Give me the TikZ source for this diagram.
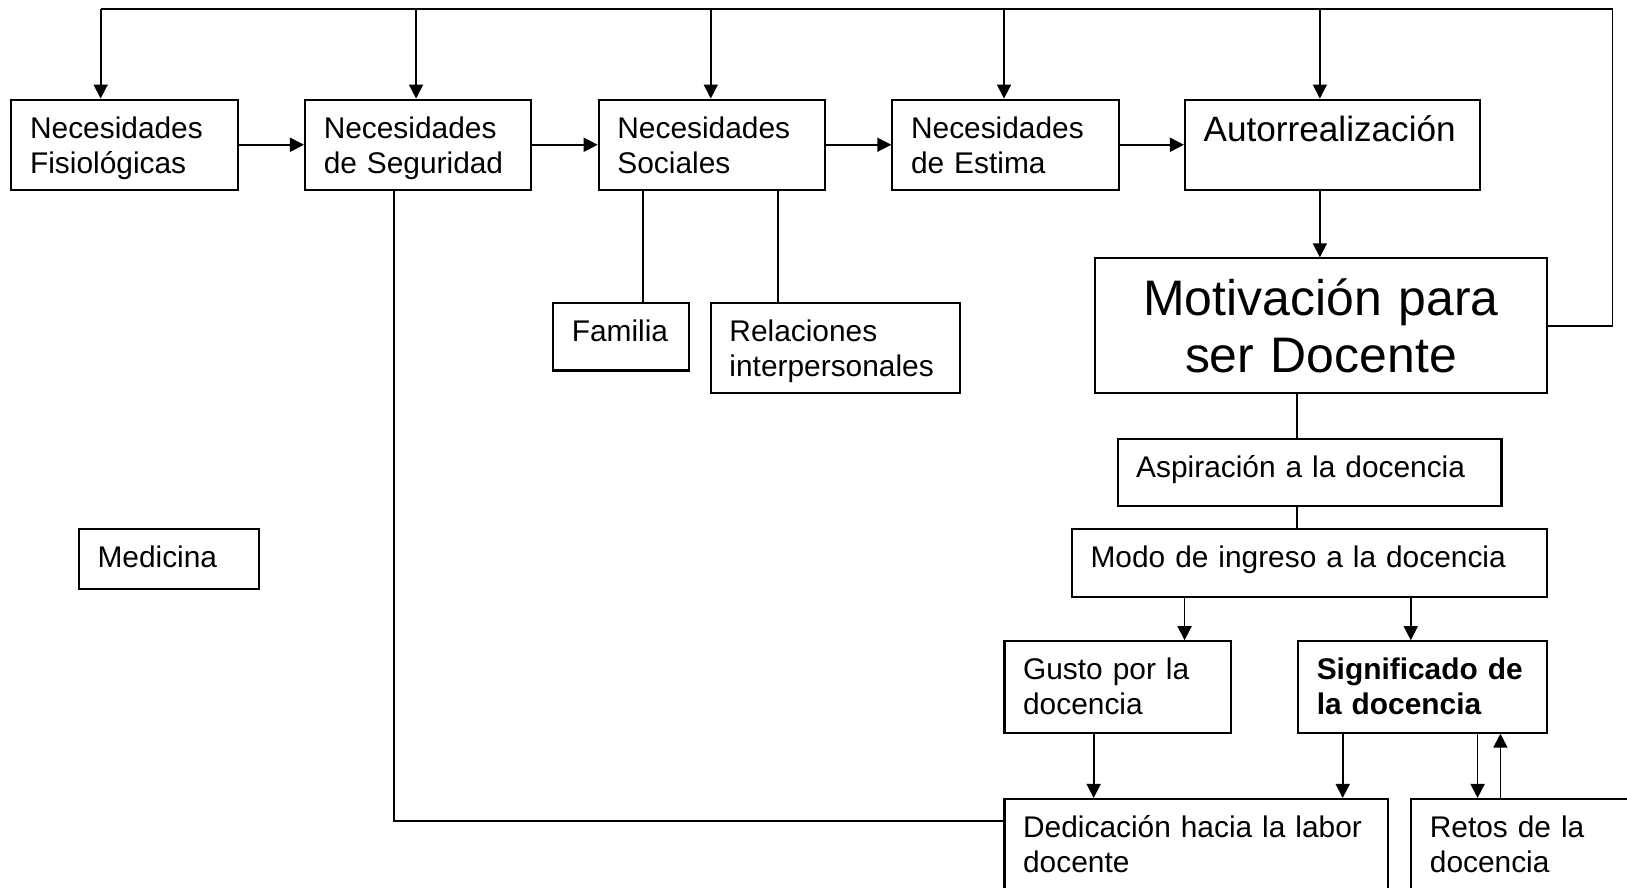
\documentclass[tikz,border=0pt]{standalone}
\usepackage{fontspec}
\setmainfont{Liberation Sans}
\usetikzlibrary{arrows.meta}
\newlength{\unidad}
\setlength{\unidad}{0.010376cm}
\tikzstyle{linea}=[line width=0.5pt]
\tikzstyle{flecha}=[linea,-{Triangle[length=4pt,width=4pt]}]
\tikzstyle{marco}=[draw,line width=0.6pt,anchor=north west,inner xsep=18*\unidad,
  inner ysep=0pt,align=left,font=\fontsize{8.5}{10}\selectfont]
\tikzset{caja/.style 2 args={marco,text width={(#1-36)*\unidad},
  text height=37*\unidad,text depth={(#2-37)*\unidad}}}

\begin{document}
\begin{tikzpicture}[x=0.010376cm,y=-0.010376cm]
\useasboundingbox (0,0) rectangle (1568,855);
\clip (0,0) rectangle (1568,855);

% jerarquia de necesidades
\node [caja={218}{87}] (fis) at (10,95) {Necesidades\\Fisiológicas};
\node [caja={218}{87}] (seg) at (293,95) {Necesidades\\de Seguridad};
\node [caja={218}{87}] (soc) at (576,95) {Necesidades\\Sociales};
\node [caja={218}{87}] (est) at (859,95) {Necesidades\\de Estima};
\node [caja={284}{87},font=\fontsize{10}{12}\selectfont,
  text height=40*\unidad,text depth=47*\unidad] (aut) at (1141,95) {Autorrealización};
\node [marco,text width=400*\unidad,minimum height=130*\unidad,align=center,
  font=\fontsize{14.2}{16.4}\selectfont] (mot) at (1054,248) {Motivación para\\ser Docente};
\node [caja={131}{65}] (fam) at (532,291) {Familia};
\node [caja={240}{87}] (rel) at (684,291) {Relaciones\\interpersonales};
\node [caja={174}{58}] (med) at (75,509) {Medicina};

% docencia
\node [caja={370}{65}] (asp) at (1076,422) {Aspiración a la docencia};
\node [caja={458}{65}] (modo) at (1032,509) {Modo de ingreso a la docencia};
\node [caja={218}{88}] (gus) at (967,617) {Gusto por la\\docencia};
\node [caja={240}{88}] (sig) at (1250,617) {\textbf{Significado de}\\\textbf{la docencia}};
\node [caja={370}{89}] (ded) at (967,769) {Dedicación hacia la labor\\docente};
\node [caja={240}{89}] (ret) at (1359,769) {Retos de la\\docencia};

\coordinate (esq) at (1554,8.7);
\coordinate (x1) at (97,0);
\coordinate (x2) at (401,0);
\coordinate (x3) at (685,0);
\coordinate (x4) at (967.6,0);
\coordinate (x5) at (1272,0);
\coordinate (x6) at (1141.6,0);
\coordinate (x7) at (1359.6,0);
\coordinate (x8) at (1054,0);
\coordinate (x9) at (1294,0);
\coordinate (x10) at (1424,0);
\coordinate (x11) at (1446,0);
\coordinate (x12) at (380,0);
\coordinate (x13) at (619.6,0);
\coordinate (x14) at (750,0);
\coordinate (y1) at (0,791);

% lazo superior
\draw [linea] (mot.east) -| (esq) -- (x1 |- esq);
\foreach \c/\n in {x1/fis,x2/seg,x3/soc,x4/est,x5/aut}
  \draw [flecha] (\c |- esq) -- (\c |- \n.north);

\draw [flecha] (fis) -- (seg);
\draw [flecha] (seg) -- (soc);
\draw [flecha] (soc) -- (est);
\draw [flecha] (est) -- (aut);
\draw [flecha] (x5 |- aut.south) -- (x5 |- mot.north);

\draw [linea] (mot.south -| sig.west) -- (asp.north -| sig.west);
\draw [linea] (asp.south -| sig.west) -- (modo.north -| sig.west);
\draw [flecha] (x6 |- modo.south) -- (x6 |- gus.north);
\draw [flecha] (x7 |- modo.south) -- (x7 |- sig.north);
\draw [flecha] (x8 |- gus.south) -- (x8 |- ded.north);
\draw [flecha] (x9 |- sig.south) -- (x9 |- ded.north);
\draw [flecha] (x10 |- sig.south) -- (x10 |- ret.north);
\draw [flecha] (x11 |- ret.north) -- (x11 |- sig.south);

\draw [linea] (x12 |- seg.south) |- (ded.west |- y1);
\draw [linea] (x13 |- soc.south) -- (x13 |- fam.north);
\draw [linea] (x14 |- soc.south) -- (x14 |- rel.north);
\end{tikzpicture}
\end{document}
